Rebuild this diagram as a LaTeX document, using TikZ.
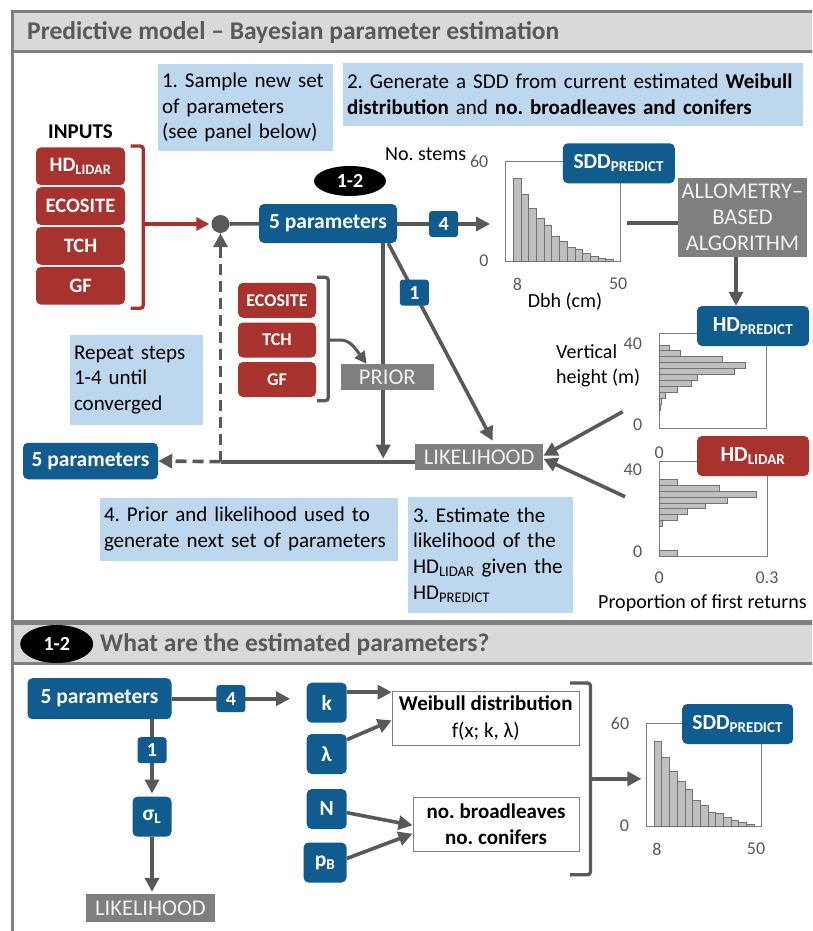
\documentclass[tikz,border=0pt]{standalone}
\usepackage{fontspec}
\setmainfont{Carlito}
\usetikzlibrary{arrows.meta}
\usetikzlibrary{shapes.geometric}
\frenchspacing
\hyphenpenalty=10000
\definecolor{pblue}{RGB}{16,92,143}
\definecolor{pred}{RGB}{168,50,46}
\definecolor{pgray}{RGB}{127,127,127}
\definecolor{pdark}{RGB}{89,89,89}
\definecolor{pnote}{RGB}{189,215,238}
\definecolor{pband}{RGB}{217,217,217}
\definecolor{pbar}{RGB}{191,191,191}
\definecolor{plight}{RGB}{242,242,242}
\tikzstyle{panel}=[draw=pgray, line width=3pt, fill=white]
\tikzstyle{band}=[draw=pgray, line width=3pt, fill=pband]
\tikzstyle{title}=[text=pdark, font=\bfseries\fontsize{25.5}{30}\selectfont, inner sep=0pt]
\tikzstyle{ell}=[ellipse, fill=black, text=white, font=\bfseries\fontsize{20}{24}\selectfont, inner sep=0pt]
\tikzstyle{note}=[fill=pnote, font=\fontsize{21}{25.7}\selectfont, align=left, inner xsep=4pt, inner ysep=0pt]
\tikzstyle{pbox}=[fill=pblue, text=white, font=\bfseries\fontsize{21.5}{26}\selectfont, rounded corners=5pt, inner sep=0pt]
\tikzstyle{numbox}=[pbox, minimum width=29, minimum height=26, rounded corners=3pt, font=\bfseries\fontsize{20}{24}\selectfont]
\tikzstyle{rbox}=[fill=pred, text=white, font=\bfseries\fontsize{20.5}{24}\selectfont, rounded corners=5pt, inner sep=0pt, minimum width=89, minimum height=37.8]
\tikzstyle{srbox}=[rbox, font=\bfseries\fontsize{18}{22}\selectfont, minimum width=78, minimum height=35]
\tikzstyle{gbox}=[fill=pgray, text=plight, font=\fontsize{22.5}{26}\selectfont, inner sep=0pt]
\tikzstyle{wbox}=[draw=pgray, line width=1pt, fill=white, align=center, font=\fontsize{21}{27}\selectfont, inner sep=0pt]
\tikzstyle{histframe}=[draw=pgray, line width=1pt, fill=white, inner sep=0pt]
\tikzstyle{bar}=[fill=pbar, draw=pdark!85, line width=0.7pt]
\tikzstyle{ticklab}=[text=pdark, font=\fontsize{18}{20}\selectfont, inner sep=0pt]
\tikzstyle{axlab}=[font=\fontsize{20}{25}\selectfont, inner sep=0pt, align=left]
\tikzstyle{conn}=[draw=pdark, line width=3.6pt]
\tikzstyle{arr}=[conn, -{Triangle[length=14pt,width=14pt]}]
\tikzstyle{rarr}=[draw=pred, line width=3.3pt, -{Triangle[length=13pt,width=13pt]}]
\tikzstyle{rbrack}=[draw=pred, line width=3.3pt, rounded corners=3pt]
\tikzstyle{gbrack}=[draw=pdark, line width=3.3pt, rounded corners=3pt]
\tikzstyle{loopdash}=[dash pattern=on 11pt off 6pt]
\newcommand{\sddbars}[3]{%
  \foreach \h [count=\i] in {0.83,0.67,0.535,0.435,0.36,0.257,0.204,0.14,0.124,0.088,0.056,0.035,0.02}
    \draw[bar] ({#1+7.6+(\i-1)*7.7},#2) rectangle ++(7.7,{-\h*#3});
}
\begin{document}
\begin{tikzpicture}[x=1pt,y=-1pt]
    \useasboundingbox (0,0) rectangle (812,931);
    \clip (0,0) rectangle (812,931);
    % panels
    \draw[panel] (12,12) rectangle (845,621);
    \draw[band] (12,12) rectangle (845,52);
    \draw[panel] (12,623) rectangle (845,960);
    \draw[band] (12,623) rectangle (845,663);
    \node[title, anchor=west] (title1) at (27,33) {Predictive model – Bayesian parameter estimation};
    \node[ell, minimum width=73, minimum height=38] (ell2) at (56.7,644) {1-2};
    \node[title, anchor=west] (title2) at (100,645) {What are the estimated parameters?};
    % step notes
    \node[note, minimum width=175, minimum height=86, text width=167] (sample) at (245.5,107.5) {1. Sample new set\\of parameters\\(see panel below)};
    \node[note, minimum width=460, minimum height=63, text width=452] (generate) at (573,94.5) {2. Generate a SDD from current estimated \textbf{Weibull}\\\textbf{distribution} and \textbf{no. broadleaves and conifers}};
    \node[note, minimum width=133, minimum height=90, text width=125] (repeat) at (136.5,380) {Repeat steps\\1-4 until\\converged};
    \node[note, minimum width=298, minimum height=63, text width=290] (nextset) at (249,529) {4. Prior and likelihood used to\\generate next set of parameters};
    \node[note, minimum width=165, minimum height=116, text width=155, inner xsep=5pt] (estimate) at (490.5,555) {3. Estimate the\\likelihood of the\\HD\textsubscript{LIDAR} given the\\HD\textsubscript{PREDICT}};
    % inputs
    \node[font=\bfseries\fontsize{21}{25}\selectfont, inner sep=0pt] (inputs) at (80.5,132) {INPUTS};
    \node[rbox] (hdl) at (80.5,166.3) {HD\textsubscript{LIDAR}};
    \node[rbox] (eco) at (80.5,206.1) {ECOSITE};
    \node[rbox] (tch) at (80.5,245.9) {TCH};
    \node[rbox] (gf) at (80.5,285.7) {GF};
    \draw[rbrack] (130.7,146) -- (143.3,146) -- (143.3,308.3) -- (130.7,308.3);
    \coordinate (inmid) at (143.3,224);
    \node[circle, fill=pdark, minimum size=18, inner sep=0pt] (dot) at (220.5,224) {};
    \draw[rarr, shorten >=2pt] (inmid) -- (dot);
    % sampled parameters
    \node[pbox, minimum width=138, minimum height=39] (par) at (328,223.5) {5 parameters};
    \node[ell, minimum width=72, minimum height=30] (ell1) at (350,181) {1-2};
    \draw[conn] (dot) -- (par);
    \coordinate (sddin) at (490,224);
    \draw[arr] (par.east |- sddin) -- node[numbox] (four) {4} (sddin);
    % SDD histogram
    \node[histframe, minimum width=115, minimum height=100] (sddtop) at (563.2,211.7) {};
    \sddbars{505.7}{261.7}{100}
    \node[pbox, minimum width=112, minimum height=40] (sddp) at (618.8,163.3) {SDD\textsubscript{PREDICT}};
    \node[axlab, anchor=west] (stems) at (385,154) {No. stems};
    \node[ticklab] (t60a) at (479.2,161.7) {60};
    \node[ticklab] (t0a) at (484,261) {0};
    \node[ticklab] (t8a) at (517.5,284) {8};
    \node[ticklab] (t50a) at (618.2,284) {50};
    \node[axlab] (dbh) at (565,301.7) {Dbh (cm)};
    \node[gbox, minimum width=129, minimum height=79, align=center] (allom) at (742.5,217.5) {ALLOMETRY–\\BASED\\ALGORITHM};
    \coordinate (sddout) at (627,222.7);
    \draw[conn] (sddout) -- (sddout -| allom.west);
    % height histograms
    \node[histframe, minimum width=107.7, minimum height=95] (hpred) at (712.85,380.5) {};
    \foreach \b/\w in {2/10,3/21.7,4/63.7,5/86,6/75.3,7/38.7,8/32,9/18.3,10/6.7,11/2,12/1}
        \draw[bar] (659,{333+\b*5.94}) rectangle ++(\w,5.94);
    \node[pbox, minimum width=112, minimum height=40] (hdp) at (753,326) {HD\textsubscript{PREDICT}};
    \draw[arr] ([xshift=-6.5pt]allom.south) -- ([xshift=-6.5pt]allom.south |- hdp.north);
    \node[histframe, minimum width=108, minimum height=94.3] (hlid) at (713,508.85) {};
    \foreach \b/\w in {3/18.3,4/60.3,5/97,6/68.3,7/46.3,8/28.3,9/18.3,10/3.3,15/18.3}
        \draw[bar] (659,{461.7+\b*5.89}) rectangle ++(\w,5.89);
    \node[rbox, minimum width=112, minimum height=40, font=\bfseries\fontsize{21.5}{26}\selectfont] (hdl2) at (753,456) {HD\textsubscript{LIDAR}};
    \node[axlab, anchor=west] (vert) at (556,365.5) {Vertical\\height (m)};
    \node[ticklab] (t40b) at (632.8,343.3) {40};
    \node[ticklab] (t0b) at (637.8,425) {0};
    \node[ticklab] (t0bx) at (659.3,452.7) {0};
    \node[ticklab] (t40c) at (632.8,470) {40};
    \node[ticklab] (t0c) at (637.8,551.7) {0};
    \node[ticklab] (t0cx) at (659.3,577.7) {0};
    \node[ticklab] (t03c) at (767,577.7) {0.3};
    \node[axlab] (prop) at (702.5,602.7) {Proportion of first returns};
    % likelihood and prior
    \node[gbox, minimum width=128, minimum height=26.5] (likeli) at (479.2,457.2) {LIKELIHOOD};
    \coordinate (hpout) at (622.7,411.7);
    \coordinate (hlout) at (625,496.7);
    \draw[arr] (hpout) -- ([yshift=1.5pt]likeli.east);
    \draw[arr] (hlout) -- ([yshift=-1.5pt]likeli.east);
    \node[srbox] (eco2) at (277,300.3) {ECOSITE};
    \node[srbox] (tch2) at (277,340) {TCH};
    \node[srbox] (gf2) at (277,379.5) {GF};
    \draw[gbrack] (317,277.3) -- (328.3,277.3) -- (328.3,400.7) -- (317,400.7);
    \coordinate (loopc) at (220.5,461.7);
    \draw[arr, shorten >=3pt] ([xshift=-14pt]par.south east) -- ([xshift=-14pt]par.south east |- loopc);
    \node[gbox, minimum width=93, minimum height=26] (prior) at (387.3,377) {PRIOR};
    \coordinate (bkmid) at (328.3,340);
    \draw[arr, line width=3pt, -{Triangle[length=12pt,width=12pt]}] (bkmid) -- (340,340) .. controls (350,340) and (355,348) .. ([xshift=26pt]prior.north west);
    \draw[arr] ([xshift=-9pt]par.south east) -- node[numbox, pos=0.25] (one) {1} ([xshift=13.5pt,yshift=3pt]likeli.north);
    \draw[conn] (likeli.west |- loopc) -- (loopc);
    \draw[arr, loopdash] (loopc) -- (dot.south);
    \node[pbox, minimum width=135, minimum height=36.5] (parback) at (90.5,461) {5 parameters};
    \draw[arr, loopdash] (loopc) -- (parback.east);
    % lower panel
    \node[pbox, minimum width=144, minimum height=41] (parc) at (99.5,698.7) {5 parameters};
    \coordinate (kin) at (290,698.7);
    \draw[arr] (parc) -- node[numbox, minimum height=27] (fourb) {4} (kin);
    \node[pbox, minimum width=39, minimum height=40] (sig) at (152,816.7) {σ\textsubscript{L}};
    \draw[arr, shorten >=3pt] (parc.south -| sig) -- node[numbox, pos=0.4] (oneb) {1} (sig.north);
    \node[gbox, minimum width=129, minimum height=28] (likelib) at (150.5,908) {LIKELIHOOD};
    \draw[arr, shorten >=2pt] (sig.south) -- (sig.south |- likelib.north);
    \node[pbox, minimum size=40] (k) at (326.7,702.7) {k};
    \node[pbox, minimum size=40] (lam) at (326.7,754) {λ};
    \node[pbox, minimum size=40] (nn) at (326.7,809) {N};
    \node[pbox, minimum width=43, minimum height=40] (pb) at (325,862.5) {p\textsubscript{B}};
    \node[wbox, minimum width=187, minimum height=54] (weib) at (485.7,718.5) {\textbf{Weibull distribution}\\f(x; k, λ)};
    \node[wbox, minimum width=166, minimum height=54, font=\bfseries\fontsize{21}{26}\selectfont] (nob) at (496,824) {no. broadleaves\\no. conifers};
    \draw[arr] ([yshift=10.5pt]k.east) -- ([yshift=10.5pt]k.east -| weib.west);
    \draw[arr] ([yshift=14.3pt]lam.east) -- ([yshift=-1.9pt]weib.west);
    \draw[arr] ([yshift=-3.7pt]nn.east) -- ([yshift=-1.3pt]nob.west);
    \draw[arr] ([yshift=4pt]pb.east) -- ([yshift=-9.7pt]nob.west);
    \draw[gbrack] (570,683) -- (590.5,683) -- (590.5,874.8) -- (570,874.8);
    \coordinate (brmid) at (590.5,778.8);
    \coordinate (sddbin) at (641.4,778.8);
    \draw[arr] (brmid) -- (sddbin);
    \node[histframe, minimum width=115.3, minimum height=102.8] (sddbot) at (704.15,774.9) {};
    \sddbars{646.5}{826.3}{102.8}
    \node[pbox, minimum width=111, minimum height=40] (sddq) at (737.7,724) {SDD\textsubscript{PREDICT}};
    \node[ticklab] (t60d) at (620,723.5) {60};
    \node[ticklab] (t0d) at (624.5,826) {0};
    \node[ticklab] (t8d) at (656.9,849) {8};
    \node[ticklab] (t50d) at (756,849) {50};
\end{tikzpicture}
\end{document}
